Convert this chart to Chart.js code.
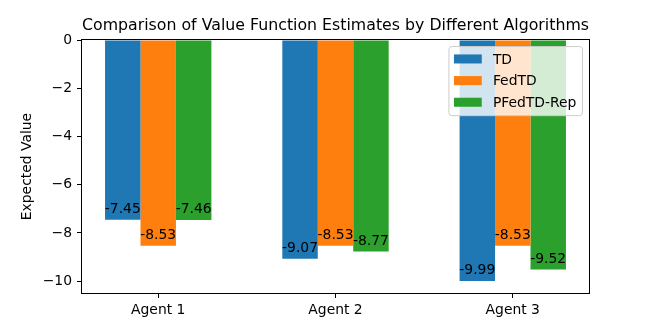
<!DOCTYPE html>
<html>
<head>
<meta charset="utf-8">
<title>Comparison of Value Function Estimates</title>
<script src="https://cdn.jsdelivr.net/npm/chart.js@4.4.1/dist/chart.umd.min.js"></script>
<style>
    html, body { margin: 0; padding: 0; background: #ffffff; }
    #wrap { width: 654px; height: 330px; }
</style>
</head>
<body>
<div id="wrap"><canvas id="valueChart" width="654" height="330"></canvas></div>
<script>
// Chart data
const agents = ['Agent 1', 'Agent 2', 'Agent 3'];
const tdValues = [-7.45, -9.07, -9.99];
const fedTdValues = [-8.53, -8.53, -8.53];
const pfedTdRepValues = [-7.46, -8.77, -9.52];
const yTickValues = [0, -2, -4, -6, -8, -10];

const seriesNames = ['TD', 'FedTD', 'PFedTD-Rep'];
const seriesColors = ['#1f77b4', '#ff7f0e', '#2ca02c'];
const seriesValues = [tdValues, fedTdValues, pfedTdRepValues];

const FONT = "'DejaVu Sans', sans-serif";
const FS = 13.9;

// matplotlib-like limits: 5% margin on the data range
const allValues = [].concat(tdValues, fedTdValues, pfedTdRepValues);
const yMin = Math.min(...allValues) * 1.05;
const xMin = -0.3 - 0.13;
const xMax = agents.length - 1 + 0.3 + 0.13;

function minusSign(v) {
    return v < 0 ? '\u2212' + Math.abs(v) : String(v);
}

// Value labels on the end of each bar
const barLabels = {
    id: 'barLabels',
    afterDatasetsDraw(chart) {
        const ctx = chart.ctx;
        ctx.save();
        ctx.font = FS + 'px ' + FONT;
        ctx.fillStyle = '#000';
        ctx.textAlign = 'center';
        ctx.textBaseline = 'alphabetic';
        chart.data.datasets.forEach((ds, d) => {
            const meta = chart.getDatasetMeta(d);
            meta.data.forEach((bar, i) => {
                ctx.fillText(ds.data[i].y.toFixed(2), bar.x, bar.y - 7);
            });
        });
        ctx.restore();
    }
};

// Four spines and a matplotlib style legend
const frameAndLegend = {
    id: 'frameAndLegend',
    afterDraw(chart) {
        const ctx = chart.ctx;
        const ca = chart.chartArea;
        ctx.save();
        ctx.strokeStyle = '#000';
        ctx.lineWidth = 1;
        ctx.strokeRect(Math.round(ca.left) - 0.5, Math.round(ca.top) - 0.5,
            Math.round(ca.right - ca.left) + 1, Math.round(ca.bottom - ca.top) + 1);

        ctx.font = FS + 'px ' + FONT;
        const pad = 0.4 * FS;
        const handleW = 2 * FS;
        const handleH = 0.65 * FS;
        const textPad = 0.8 * FS;
        const rowH = 14.7;
        const gap = 0.5 * FS;
        const textW = Math.max(...seriesNames.map(n => ctx.measureText(n).width));
        const boxW = pad * 2 + handleW + textPad + textW;
        const boxH = pad * 2 + rowH * seriesNames.length + gap * (seriesNames.length - 1);
        const boxX = ca.right - 7 - boxW;
        const boxY = ca.top + 6;

        ctx.beginPath();
        ctx.roundRect(boxX + 0.5, boxY + 0.5, boxW, boxH, 3);
        ctx.fillStyle = 'rgba(255,255,255,0.8)';
        ctx.fill();
        ctx.strokeStyle = '#cccccc';
        ctx.stroke();

        ctx.textAlign = 'left';
        ctx.textBaseline = 'middle';
        seriesNames.forEach((name, i) => {
            const cy = boxY + pad + rowH / 2 + i * (rowH + gap);
            ctx.fillStyle = seriesColors[i];
            ctx.fillRect(boxX + pad, cy - handleH / 2, handleW, handleH);
            ctx.fillStyle = '#000';
            ctx.fillText(name, boxX + pad + handleW + textPad, cy + 1);
        });
        ctx.restore();
    }
};

document.addEventListener('DOMContentLoaded', () => {
    const ctx = document.getElementById('valueChart');

    new Chart(ctx, {
        type: 'bar',
        data: {
            datasets: seriesNames.map((name, d) => ({
                label: name,
                data: seriesValues[d].map((v, i) => ({ x: i, y: v })),
                backgroundColor: seriesColors[d],
                borderWidth: 0,
                categoryPercentage: 0.6,
                barPercentage: 1.0
            }))
        },
        options: {
            responsive: false,
            animation: false,
            layout: {
                padding: { left: 0, top: 0, right: 65, bottom: 0 }
            },
            plugins: {
                legend: { display: false },
                tooltip: { enabled: false },
                title: {
                    display: true,
                    fullSize: false,
                    text: 'Comparison of Value Function Estimates by Different Algorithms',
                    color: '#000',
                    font: { family: FONT, size: 16.7, weight: 'normal', lineHeight: 1.2 },
                    padding: { top: 16, bottom: 4 }
                }
            },
            scales: {
                x: {
                    type: 'linear',
                    min: xMin,
                    max: xMax,
                    offset: false,
                    afterBuildTicks: axis => {
                        axis.ticks = agents.map((a, i) => ({ value: i }));
                    },
                    afterFit: axis => { axis.height = 37; },
                    grid: {
                        display: true,
                        offset: false,
                        drawOnChartArea: false,
                        drawTicks: true,
                        tickLength: 5,
                        color: '#000'
                    },
                    border: { display: false },
                    ticks: {
                        color: '#000',
                        font: { family: FONT, size: FS },
                        padding: 4,
                        maxRotation: 0,
                        autoSkip: false,
                        callback: value => agents[value]
                    }
                },
                y: {
                    min: yMin,
                    max: 0,
                    afterBuildTicks: axis => {
                        axis.ticks = yTickValues.map(v => ({ value: v }));
                    },
                    afterFit: axis => { axis.width = 82; },
                    grid: {
                        display: true,
                        drawOnChartArea: false,
                        drawTicks: true,
                        tickLength: 5,
                        color: '#000'
                    },
                    border: { display: false },
                    ticks: {
                        color: '#000',
                        font: { family: FONT, size: FS },
                        padding: 5,
                        callback: value => minusSign(value)
                    },
                    title: {
                        display: true,
                        text: 'Expected Value',
                        color: '#000',
                        font: { family: FONT, size: FS, lineHeight: 1.2 },
                        padding: { top: 19, bottom: 0 }
                    }
                }
            }
        },
        plugins: [barLabels, frameAndLegend]
    });
});
</script>
</body>
</html>
